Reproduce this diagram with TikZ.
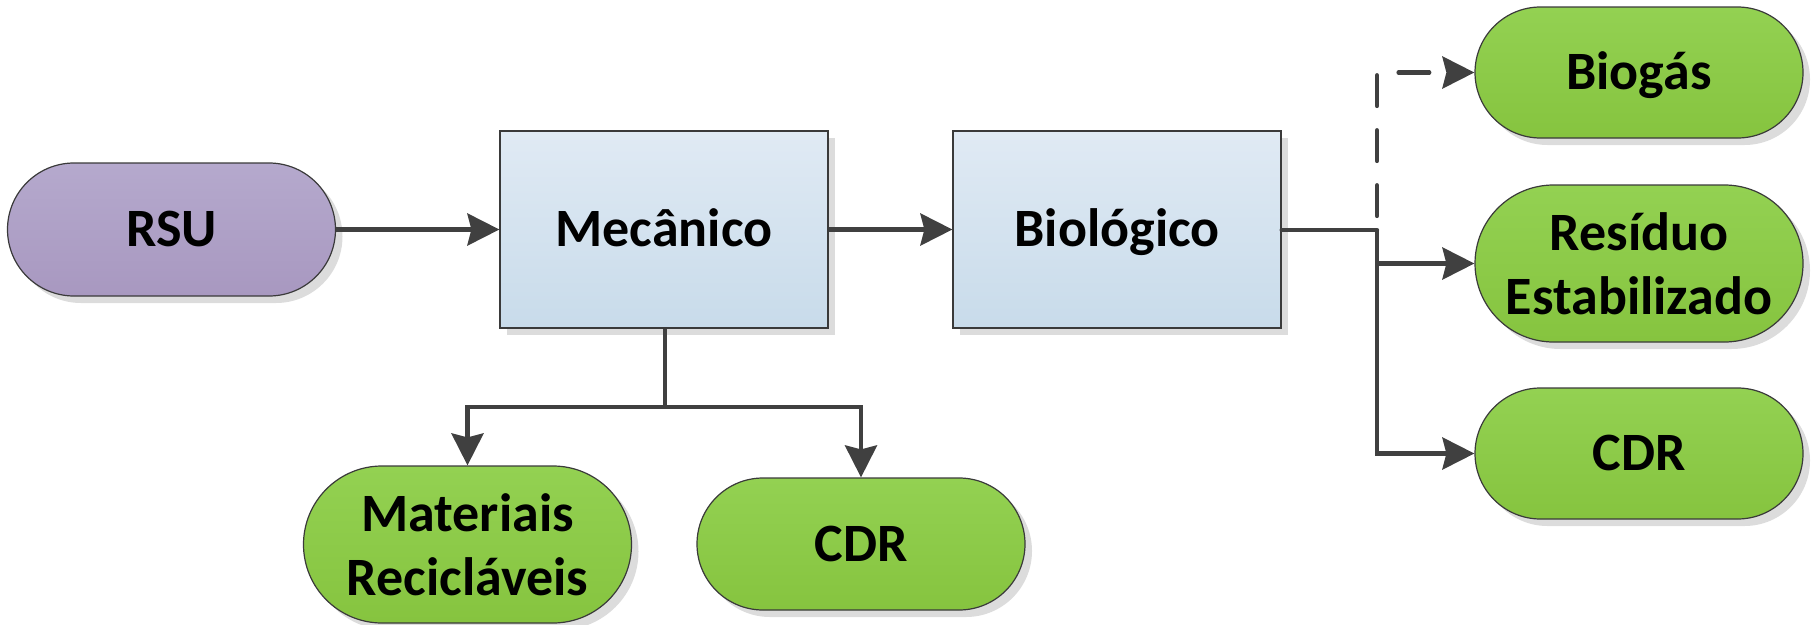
\documentclass[tikz,border=0pt]{standalone}
\usepackage{fontspec}
\setmainfont{Carlito}
\usetikzlibrary{shapes.misc,shadows,arrows.meta}
\definecolor{lineC}{HTML}{404040}
\definecolor{bordC}{HTML}{3A3A3A}
\definecolor{greenT}{HTML}{93D152}
\definecolor{greenB}{HTML}{86C43F}
\definecolor{purpT}{HTML}{B5A9CD}
\definecolor{purpB}{HTML}{A898C0}
\definecolor{blueT}{HTML}{E0EAF4}
\definecolor{blueB}{HTML}{C8DBEA}
\definecolor{shadC}{HTML}{DCDCDC}
\begin{document}
\begin{tikzpicture}[x=1pt,y=-1pt,
  every node/.style={font=\fontsize{54}{66}\selectfont\bfseries, text=black},
  shad/.style={drop shadow={shadow xshift=7pt, shadow yshift=-7pt, fill=shadC, opacity=1}},
  pill/.style={rounded rectangle, draw=bordC, line width=1.2pt, inner sep=0pt,
    minimum width=328pt, align=center, top color=greenT, bottom color=greenB, shad},
  onel/.style={text height=34pt, text depth=0pt},
  procbox/.style={rectangle, draw=bordC, line width=1.2pt, inner sep=0pt,
    minimum width=328pt, minimum height=197pt, top color=blueT, bottom color=blueB, shad, onel},
  conn/.style={draw=lineC, line width=4.2pt},
  arr/.style={conn, -{Stealth[length=32pt,width=32pt,inset=4pt]}},
  dsh/.style={line cap=round, dash pattern=on 30.8pt off 24.2pt, dash phase=41pt}
]
\useasboundingbox (0,0) rectangle (1812,624);

\node[pill, onel, minimum height=133pt, top color=purpT, bottom color=purpB] (rsu) at (171.5,229.5) {RSU};
\node[procbox] (mec) at (664,229.5) {Mecânico};
\node[procbox] (bio) at (1117,229.5) {Biológico};

\node[pill, minimum height=157pt] (mat) at (467.5,544.5) {Materiais\\[-2pt]Recicláveis};
\node[pill, onel, minimum height=132pt] (cdra) at (861,544) {CDR};

\node[pill, onel, minimum height=131pt] (bgs) at (1639,72.5) {Biogás};
\node[pill, minimum height=157pt] (res) at (1639,263.5) {Resíduo\\[-2pt]Estabilizado};
\node[pill, onel, minimum height=131pt] (cdrb) at (1639,453.5) {CDR};

\coordinate (jm) at (665,407);
\coordinate (jb) at (1377,230);

\draw[arr] (rsu.east) -- (mec.west);
\draw[arr] (mec.east) -- (bio.west);
\draw[conn] (mec.south -| jm) -- (jm);
\draw[arr] (jm) -| (mat.north);
\draw[arr] (jm) -| (cdra.north);
\draw[conn, line cap=round] (bio.east |- jb) -- (jb);
\draw[arr] (jb) |- (cdrb.west);
\draw[arr] (jb |- res.west) -- (res.west);
\draw[arr, dsh] (jb) |- (bgs.west);
\end{tikzpicture}
\end{document}
